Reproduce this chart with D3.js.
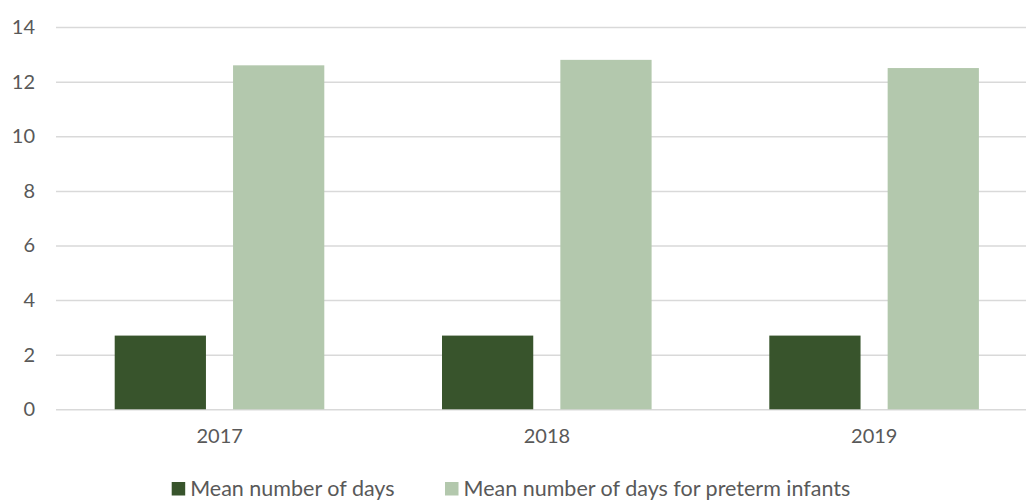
<!DOCTYPE html>
<html>
<head>
<meta charset="utf-8">
<script src="https://cdn.jsdelivr.net/npm/d3@7"></script>
<style>
  html, body { margin: 0; padding: 0; background: #fff; overflow: hidden; }
  svg { display: block; font-family: Lato, "Open Sans", sans-serif; }
</style>
</head>
<body>
<svg id="chart" width="1026" height="501"></svg>
<script>
// Data
const years = ["2017", "2018", "2019"];
const seriesNames = ["Mean number of days", "Mean number of days for preterm infants"];
const meanDays = [2.7, 2.7, 2.7];
const meanDaysPreterm = [12.6, 12.8, 12.5];
const yTicks = [0, 2, 4, 6, 8, 10, 12, 14];
const colors = ["#38542c", "#b3c8ad"];

const seriesValues = [meanDays, meanDaysPreterm];
const rows = years.map((yr, i) => ({ year: yr, values: seriesValues.map((s, j) => ({ key: seriesNames[j], value: s[i] })) }));

const svg = d3.select("#chart");
const textColor = "#595959";

const plotLeft = 56, bandStep = 327.3;
const x0 = d3.scaleBand().domain(years).range([plotLeft, plotLeft + bandStep * years.length]).padding(0);
const x1 = d3.scaleBand().domain(seriesNames).range([58.7, 268.3]).paddingInner(0.229).paddingOuter(0);
const y = d3.scaleLinear().domain([0, 14]).range([409.3, 27.1]);

// Gridlines and y tick labels
const yAxis = d3.axisLeft(y).tickValues(yTicks).tickSize(-(1026 - plotLeft)).tickPadding(21);
const gy = svg.append("g").attr("transform", `translate(${plotLeft},0)`).call(yAxis);
gy.select(".domain").remove();
gy.selectAll(".tick line").attr("stroke", "#d9d9d9").attr("stroke-width", 1.5);
gy.selectAll(".tick text")
  .attr("fill", textColor)
  .style("font-size", "20px")
  .style("font-family", "Lato, sans-serif");

// Bars
const groups = svg.append("g").selectAll("g").data(rows).join("g")
  .attr("transform", d => `translate(${x0(d.year)},0)`);
groups.selectAll("rect").data(d => d.values).join("rect")
  .attr("x", d => x1(d.key))
  .attr("width", x1.bandwidth())
  .attr("y", d => y(d.value))
  .attr("height", d => y(0) - y(d.value))
  .attr("fill", (d, i) => colors[i]);

// X axis labels
const xAxis = d3.axisBottom(x0).tickSize(0).tickPadding(20);
const gx = svg.append("g").attr("transform", `translate(0,${y(0)})`).call(xAxis);
gx.select(".domain").remove();
gx.selectAll(".tick text")
  .attr("fill", textColor)
  .style("font-size", "20px")
  .style("font-family", "Lato, sans-serif");

// Legend
const legendX = [171.7, 445];
const legend = svg.append("g").selectAll("g").data(seriesNames).join("g")
  .attr("transform", (d, i) => `translate(${legendX[i]},0)`);
legend.append("rect")
  .attr("x", 0).attr("y", 482).attr("width", 13.5).attr("height", 13.5)
  .attr("fill", (d, i) => colors[i]);
legend.append("text")
  .attr("x", 18.5).attr("y", 496)
  .attr("fill", textColor)
  .style("font-size", "21.5px")
  .text(d => d);
</script>
</body>
</html>
